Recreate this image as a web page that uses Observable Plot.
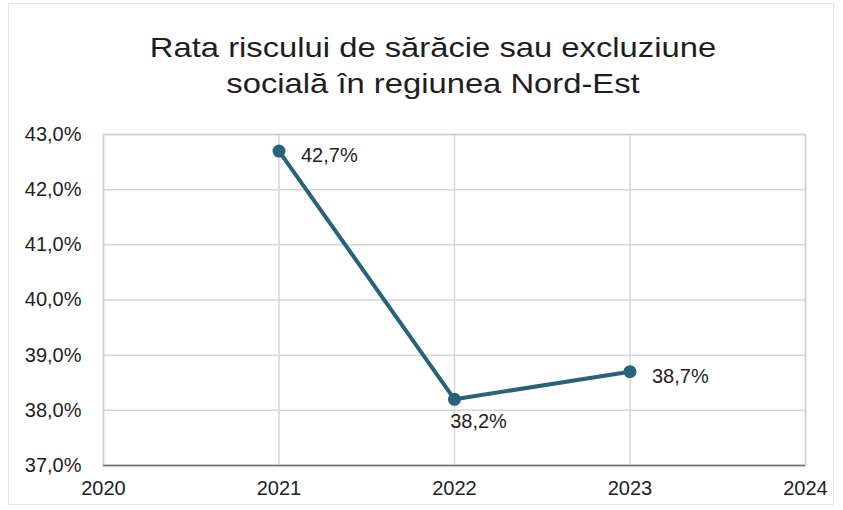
<!DOCTYPE html>
<html>
<head>
<meta charset="utf-8">
<script src="https://cdn.jsdelivr.net/npm/d3@7"></script>
<script src="https://cdn.jsdelivr.net/npm/@observablehq/plot@0.6"></script>
<style>
  html, body { margin: 0; padding: 0; background: #fff; }
  #wrap { position: relative; width: 843px; height: 510px; overflow: hidden; font-family: "Liberation Sans", Arial, sans-serif; }
  #frame { position: absolute; left: 8px; top: 3px; width: 826px; height: 502px; border: 1px solid #e4e4e4; box-sizing: border-box; }
  #title { position: absolute; left: 0; top: 30px; width: 866px; text-align: center; font-size: 28px; line-height: 36px; color: #1e1e1e; transform: scaleX(1.17); transform-origin: 433px 0; }
  #chart { position: absolute; left: 0; top: 115px; }
</style>
</head>
<body>
<div id="wrap">
  <div id="frame"></div>
  <div id="title">Rata riscului de sărăcie sau excluziune<br>socială în regiunea Nord-Est</div>
  <div id="chart"></div>
</div>
<script>
const years = [2021, 2022, 2023];
const rates = [42.7, 38.2, 38.7];
const xTicks = [2020, 2021, 2022, 2023, 2024];
const yTicks = [37, 38, 39, 40, 41, 42, 43];

const data = years.map((y, i) => ({year: y, rate: rates[i]}));
const fmt = v => v.toFixed(1).replace(".", ",") + "%";
const lineColor = "#27637a";

const chart = Plot.plot({
  width: 843,
  height: 395,
  marginTop: 19,
  marginBottom: 45,
  marginLeft: 103,
  marginRight: 38,
  style: {fontFamily: "'Liberation Sans', Arial, sans-serif", fontSize: "20px", color: "#1e1e1e", background: "transparent"},
  x: {domain: [2020, 2024], ticks: xTicks, tickFormat: d => String(d), label: null},
  y: {domain: [37, 43], ticks: yTicks, tickFormat: fmt, label: null},
  marks: [
    Plot.gridY(yTicks, {stroke: "#d6d6d6", strokeOpacity: 1, strokeWidth: 1.5}),
    Plot.gridX(xTicks, {stroke: "#d6d6d6", strokeOpacity: 1, strokeWidth: 1.5}),
    Plot.frame({stroke: "#d0d0d0", strokeWidth: 1.5}),
    Plot.ruleY([37], {stroke: "#6e6e6e", strokeWidth: 1.5}),
    Plot.axisY(yTicks, {tickSize: 0, tickPadding: 22, tickFormat: fmt, fontSize: 20, label: null}),
    Plot.axisX(xTicks, {tickSize: 0, tickPadding: 15, tickFormat: d => String(d), fontSize: 20, label: null}),
    Plot.line(data, {x: "year", y: "rate", stroke: lineColor, strokeWidth: 4}),
    Plot.dot(data, {x: "year", y: "rate", fill: lineColor, r: 6.5, stroke: "none"}),
    Plot.text(data.filter(d => d.year !== 2022), {x: "year", y: "rate", text: d => fmt(d.rate), textAnchor: "start", dx: 22, dy: 5, fontSize: 20, fill: "#1e1e1e"}),
    Plot.text(data.filter(d => d.year === 2022), {x: "year", y: "rate", text: d => fmt(d.rate), textAnchor: "middle", dx: 24, dy: 22, fontSize: 20, fill: "#1e1e1e"})
  ]
});
document.getElementById("chart").appendChild(chart);
</script>
</body>
</html>
